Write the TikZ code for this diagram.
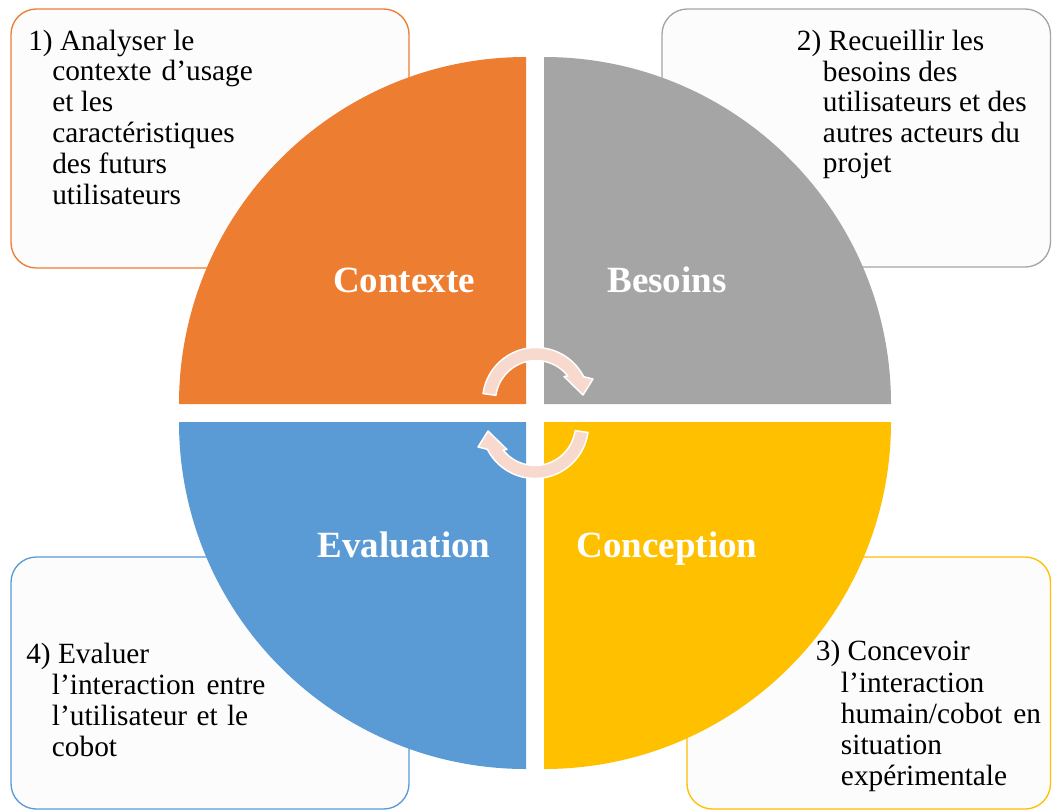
\documentclass[tikz,border=0pt]{standalone}
\usepackage{fontspec}
\setmainfont{Liberation Serif}
\usetikzlibrary{calc}
\definecolor{cOrange}{HTML}{ED7D31}
\definecolor{cGray}{HTML}{A5A5A5}
\definecolor{cBlue}{HTML}{5B9BD5}
\definecolor{cYellow}{HTML}{FFC000}
\definecolor{cArrow}{HTML}{F8D9CE}
\definecolor{cBoxFill}{HTML}{FCFCFC}
\begin{document}
\begin{tikzpicture}[x=0.75pt,y=-0.75pt,
  infobox/.style={draw=#1, line width=1pt, fill=cBoxFill, rounded corners=19pt},
  quad/.style={fill=#1},
  qlabel/.style={anchor=base, inner sep=0, text=white, font=\fontsize{27.75}{30}\selectfont\bfseries},
  btext/.style={anchor=base west, inner sep=0, font=\fontsize{22}{26}\selectfont},
  cyc/.style={fill=cArrow, draw=white, line width=1.1pt, line join=round}]
\useasboundingbox (0,0) rectangle (1052,811);
\fill[white] (0,0) rectangle (1052,811);

% info boxes
\draw[infobox=cOrange] (11,9) rectangle (409,268);
\draw[infobox=cGray] (662,9) rectangle (1050.5,267);
\draw[infobox=cYellow] (687,557) rectangle (1050.5,809);
\draw[infobox=cBlue] (11,557) rectangle (409,809);

% quadrants
\fill[quad=cOrange] (526,404) -- (179,404) arc[start angle=180,end angle=270,radius=347] -- cycle;
\fill[quad=cGray] (544,404) -- (544,57) arc[start angle=270,end angle=360,radius=347] -- cycle;
\fill[quad=cYellow] (544,422) -- (891,422) arc[start angle=0,end angle=90,radius=347] -- cycle;
\fill[quad=cBlue] (526,422) -- (526,769) arc[start angle=90,end angle=180,radius=347] -- cycle;

% cycle arrows
\coordinate (T) at (536,401);
\coordinate (B) at (535,425);
\path[cyc] ($(T)+(188:53.5)$) arc[start angle=188,end angle=333,radius=53.5]
  -- (593,379) -- (583,395) -- (564,376.5) -- ($(T)+(322:40.5)$)
  arc[start angle=322,end angle=188,radius=40.5] -- cycle;
\path[cyc] ($(B)+(8:53.5)$) arc[start angle=8,end angle=153,radius=53.5]
  -- (478,447) -- (488,431) -- (507,449.5) -- ($(B)+(142:40.5)$)
  arc[start angle=142,end angle=8,radius=40.5] -- cycle;

% quadrant labels
\node[qlabel] (lctx) at (404,292) {Contexte};
\node[qlabel] (lbes) at (667,292) {Besoins};
\node[qlabel] (leva) at (404,557.5) {Evaluation};
\node[qlabel] (lcon) at (667,557.5) {Conception};

% box 1
\node[btext] (a1) at (28,50) {1) Analyser le};
\node[btext] (a2) at (52,80.7) {\makebox[150.5pt][s]{contexte d’usage}};
\node[btext] (a3) at (52,111) {et les};
\node[btext] (a4) at (52,142) {caractéristiques};
\node[btext] (a5) at (52,173) {des futurs};
\node[btext] (a6) at (52,204) {utilisateurs};

% box 2
\node[btext] (b1) at (796.7,50) {2) Recueillir les};
\node[btext] (b2) at (822.7,81) {besoins des};
\node[btext] (b3) at (822.7,111.7) {utilisateurs et des};
\node[btext] (b4) at (822.7,142) {autres acteurs du};
\node[btext] (b5) at (822.7,172.7) {projet};

% box 3
\node[btext] (c1) at (815.7,660.7) {3) Concevoir};
\node[btext] (c2) at (840.7,692.7) {l’interaction};
\node[btext] (c3) at (840.7,723.3) {\makebox[150pt][s]{humain/cobot en}};
\node[btext] (c4) at (840.7,754.3) {situation};
\node[btext] (c5) at (840.7,785) {expérimentale};

% box 4
\node[btext] (d1) at (26,663.3) {4) Evaluer};
\node[btext] (d2) at (51.7,694.3) {\makebox[160pt][s]{l’interaction entre}};
\node[btext] (d3) at (51.7,725) {\makebox[147.2pt][s]{l’utilisateur et le}};
\node[btext] (d4) at (51.7,756) {cobot};
\end{tikzpicture}
\end{document}
